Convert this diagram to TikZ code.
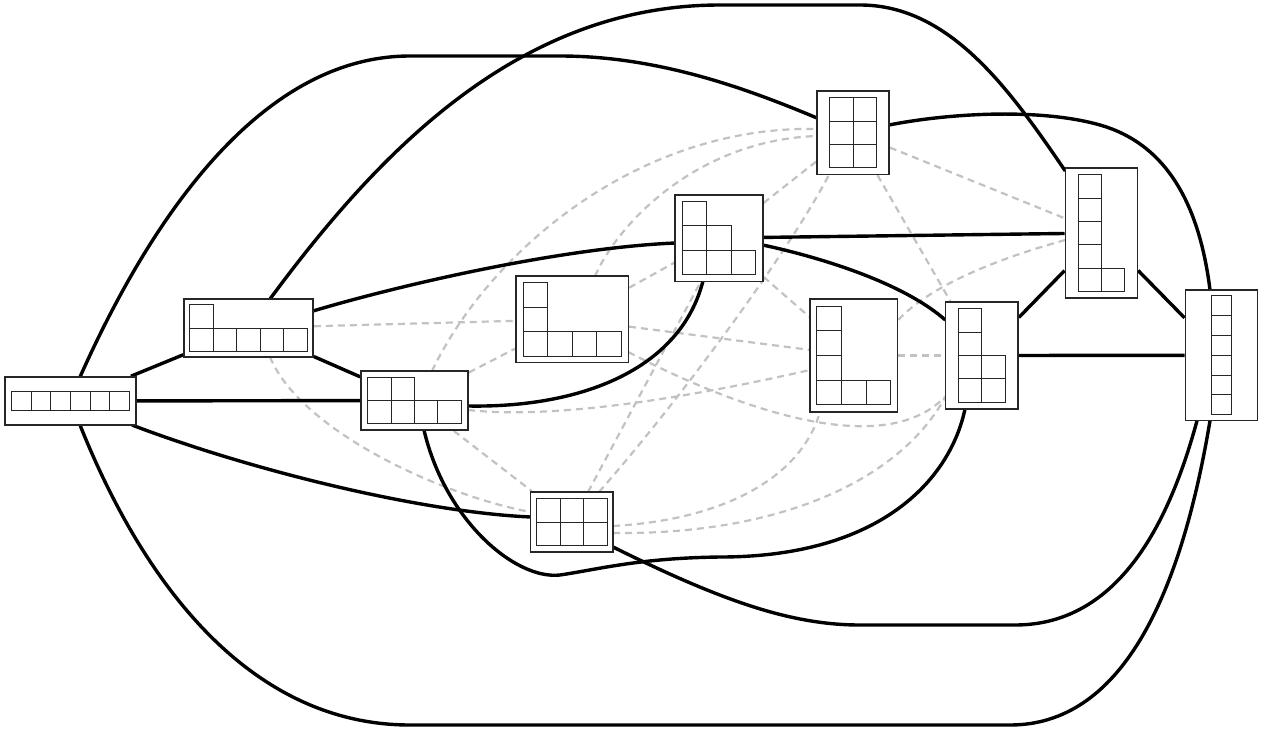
\documentclass[tikz,border=0pt]{standalone}
\usetikzlibrary{backgrounds}
\tikzset{
  box/.style={draw=black!85, line width=1.6pt, fill=white, inner sep=0pt, rectangle},
  cell/.style={draw=black!85, line width=0.9pt},
  edge/.style={line width=3.4pt, draw=black},
  rel/.style={line width=2.2pt, draw=black!24, dash pattern=on 7pt off 5pt},
}
% #1 node, #2 cell size, #3 columns, #4 rows, #5 row lengths (bottom row first)
\newcommand{\yd}[5]{%
  \foreach \ylen [count=\yrow from 0] in {#5} {
    \foreach \ycol in {1,...,\ylen} {
      \pgfmathsetmacro{\yxa}{-#3*#2/2+(\ycol-1)*#2}
      \pgfmathsetmacro{\yya}{#4*#2/2-\yrow*#2}
      \draw[cell] ([shift={(\yxa,\yya)}]#1.center) rectangle ++(#2,-#2);
    }
  }%
}
\begin{document}
\begin{tikzpicture}[x=1pt,y=-1pt]
\useasboundingbox (0,0) rectangle (1263,731);
\node[box, minimum width=131pt, minimum height=48pt] (p6) at (70.5,401) {};
\node[box, minimum width=129pt, minimum height=58pt] (p51) at (248.5,328) {};
\node[box, minimum width=107pt, minimum height=59pt] (p42) at (414.5,400.5) {};
\node[box, minimum width=82.5pt, minimum height=60pt] (p33) at (571.75,522) {};
\node[box, minimum width=112.6pt, minimum height=86.7pt] (p411) at (572,319.3) {};
\node[box, minimum width=87.7pt, minimum height=86.6pt] (p321) at (718.9,238) {};
\node[box, minimum width=72pt, minimum height=83.3pt] (p222) at (853,132.7) {};
\node[box, minimum width=87.3pt, minimum height=113pt] (p3111) at (853.7,355.5) {};
\node[box, minimum width=72.7pt, minimum height=107pt] (p2211) at (981.7,355.5) {};
\node[box, minimum width=72pt, minimum height=130pt] (p21111) at (1101.3,233) {};
\node[box, minimum width=72pt, minimum height=130.7pt] (p1) at (1221.3,355.3) {};

\yd{p6}{19.7}{6}{1}{6}
\yd{p51}{23.5}{5}{2}{5,1}
\yd{p42}{23.4}{4}{2}{4,2}
\yd{p33}{23.5}{3}{2}{3,3}
\yd{p411}{24.5}{4}{3}{4,1,1}
\yd{p321}{24.6}{3}{3}{3,2,1}
\yd{p222}{23.4}{2}{3}{2,2,2}
\yd{p3111}{24.7}{3}{4}{3,1,1,1}
\yd{p2211}{23.3}{2}{4}{2,2,1,1}
\yd{p21111}{23.3}{2}{5}{2,1,1,1,1}
\yd{p1}{19.8}{1}{6}{1,1,1,1,1,1}

\begin{pgfonlayer}{background}
% dashed relations
\draw[rel] (p51) -- (p411);
\draw[rel] (p42) -- (p411);
\draw[rel] (p411) -- (p321);
\draw[rel] (p411) -- (p3111);
\draw[rel] (p42) -- (p33);
\draw[rel] (p321) -- (p3111);
\draw[rel] (p321) -- (p222);
\draw[rel] (p222) -- (p2211);
\draw[rel] (p3111) -- (p2211);
\draw[rel] (p222) -- (p21111);
\draw[rel] ([shift={(17.5,-29.5)}]p42.center) .. controls (490,250) and (640,125) .. ([shift={(-36,-3.7)}]p222.center);
\draw[rel] ([shift={(23,-43.3)}]p411.center) .. controls (620,220) and (700,140) .. ([shift={(-36,3.3)}]p222.center);
\draw[rel] ([shift={(21.5,29)}]p51.center) .. controls (300,430) and (440,495) .. ([shift={(-41.25,-10)}]p33.center);
\draw[rel] ([shift={(53.5,9.5)}]p42.center) .. controls (560,420) and (700,395) .. ([shift={(-43.7,14.5)}]p3111.center);
\draw[rel] ([shift={(56.3,32.7)}]p411.center) .. controls (720,400) and (880,465) .. ([shift={(-36.4,41)}]p2211.center);
\draw[rel] ([shift={(41.25,4)}]p33.center) .. controls (720,520) and (800,480) .. ([shift={(-33.7,56.5)}]p3111.center);
\draw[rel] ([shift={(41.25,11)}]p33.center) .. controls (780,535) and (900,480) .. ([shift={(-36.4,41.5)}]p2211.center);
\draw[rel] ([shift={(-36,7)}]p21111.center) .. controls (1000,258) and (930,285) .. ([shift={(43.6,-34.5)}]p3111.center);
\draw[rel] ([shift={(27.25,-30)}]p33.center) .. controls (680,400) and (790,250) .. ([shift={(-24,42)}]p222.center);
\draw[rel] ([shift={(16.25,-30)}]p33.center) -- ([shift={(-18,43.3)}]p321.center);

% solid edges
\draw[edge] (p6) -- (p51);
\draw[edge] (p6) -- (p42);
\draw[edge] ([shift={(61.5,24)}]p6.center) .. controls (250,470) and (420,512) .. ([shift={(-41.25,-5)}]p33.center);
\draw[edge] ([shift={(9.5,-24)}]p6.center) .. controls (150,220) and (260,56) .. (410,56) -- (560,56) .. controls (660,56) and (750,90) .. ([shift={(-36,-14.7)}]p222.center);
\draw[edge] ([shift={(9.5,24)}]p6.center) .. controls (150,600) and (260,725) .. (410,725) -- (1010,725) .. controls (1120,725) and (1180,600) .. ([shift={(-11.3,65.4)}]p1.center);
\draw[edge] (p51) -- (p42);
\draw[edge] ([shift={(64.5,-17)}]p51.center) .. controls (400,285) and (560,248) .. ([shift={(-43.9,5)}]p321.center);
\draw[edge] ([shift={(21.5,-29)}]p51.center) .. controls (380,150) and (520,5) .. (720,5) -- (860,5) .. controls (950,5) and (1010,90) .. ([shift={(-36,-62)}]p21111.center);
\draw[edge] ([shift={(53.5,5.5)}]p42.center) .. controls (580,408) and (680,370) .. ([shift={(-16,43.3)}]p321.center);
\draw[edge] ([shift={(9.5,29.5)}]p42.center) .. controls (445,520) and (515,580) .. (560,575) .. controls (600,569) and (640,558) .. (720,557) .. controls (880,557) and (950,480) .. ([shift={(-16.7,53.5)}]p2211.center);
\draw[edge] ([shift={(41.25,25)}]p33.center) .. controls (720,600) and (790,625) .. (860,625) -- (1015,625) .. controls (1120,625) and (1170,520) .. ([shift={(-24.3,65.4)}]p1.center);
\draw[edge] ([shift={(36,-7.7)}]p222.center) .. controls (950,113) and (1040,108) .. (1100,125) .. controls (1170,145) and (1200,210) .. ([shift={(-11.3,-65.3)}]p1.center);
\draw[edge] (p321) -- (p21111);
\draw[edge] ([shift={(43.8,7)}]p321.center) .. controls (810,255) and (900,280) .. ([shift={(-36.4,-35.5)}]p2211.center);
\draw[edge] (p2211) -- (p21111);
\draw[edge] (p2211) -- (p1);
\draw[edge] (p21111) -- (p1);
\end{pgfonlayer}
\end{tikzpicture}
\end{document}
